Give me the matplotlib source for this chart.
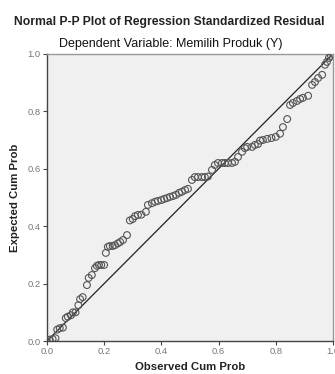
import matplotlib
matplotlib.use("Agg")
import matplotlib.pyplot as plt

observed = [0.000, 0.010, 0.020, 0.030, 0.036, 0.045, 0.056, 0.066, 0.073, 0.084,
            0.091, 0.100, 0.110, 0.116, 0.125, 0.140, 0.146, 0.157, 0.168, 0.175,
            0.182, 0.190, 0.200, 0.206, 0.213, 0.220, 0.230, 0.238, 0.248, 0.256,
            0.266, 0.280, 0.290, 0.300, 0.308, 0.318, 0.330, 0.346, 0.353, 0.367,
            0.378, 0.388, 0.400, 0.410, 0.420, 0.430, 0.441, 0.451, 0.462, 0.472,
            0.483, 0.493, 0.507, 0.517, 0.528, 0.542, 0.552, 0.563, 0.577, 0.587,
            0.598, 0.612, 0.622, 0.633, 0.647, 0.657, 0.668, 0.682, 0.692, 0.700,
            0.717, 0.727, 0.738, 0.745, 0.755, 0.770, 0.785, 0.800, 0.815, 0.825,
            0.840, 0.850, 0.860, 0.874, 0.885, 0.895, 0.913, 0.927, 0.937, 0.948,
            0.962, 0.972, 0.979, 0.986, 0.993, 1.000]
expected = [0.000, 0.005, 0.007, 0.010, 0.040, 0.045, 0.047, 0.080, 0.085, 0.090,
            0.100, 0.100, 0.125, 0.146, 0.153, 0.195, 0.220, 0.230, 0.254, 0.262,
            0.265, 0.265, 0.265, 0.307, 0.328, 0.331, 0.331, 0.334, 0.340, 0.345,
            0.352, 0.369, 0.420, 0.425, 0.435, 0.439, 0.440, 0.450, 0.474, 0.480,
            0.485, 0.488, 0.491, 0.495, 0.498, 0.502, 0.505, 0.509, 0.516, 0.520,
            0.526, 0.530, 0.561, 0.571, 0.571, 0.571, 0.571, 0.573, 0.596, 0.613,
            0.620, 0.620, 0.620, 0.620, 0.620, 0.624, 0.641, 0.659, 0.672, 0.676,
            0.676, 0.683, 0.686, 0.698, 0.700, 0.704, 0.707, 0.711, 0.722, 0.745,
            0.773, 0.822, 0.829, 0.836, 0.843, 0.847, 0.854, 0.892, 0.902, 0.916,
            0.927, 0.962, 0.972, 0.986, 0.993, 1.000]

ticks = [0.0, 0.2, 0.4, 0.6, 0.8, 1.0]
tick_labels = ["0.0", "0.2", "0.4", "0.6", "0.8", "1.0"]

plt.rcParams['font.family'] = ['Liberation Sans', 'DejaVu Sans']

fig = plt.figure(figsize=(3.35, 3.74), dpi=100)
ax = fig.add_axes([0.140, 0.088, 0.854, 0.768])
ax.set_facecolor('#f0f0f0')

ax.plot([0, 1], [0, 1], color='#222222', lw=0.9, zorder=2)
ax.scatter(observed, expected, s=24, facecolors='none', edgecolors='#555555',
           linewidths=0.8, zorder=3)

ax.set_xlim(0, 1)
ax.set_ylim(0, 1)
ax.set_xticks(ticks)
ax.set_xticklabels(tick_labels)
ax.set_yticks(ticks)
ax.set_yticklabels(tick_labels)
ax.tick_params(direction='out', length=3, width=0.8, color='#444444',
               labelsize=6.8, labelcolor='#777777', pad=1.5)
for side in ['left', 'bottom']:
    ax.spines[side].set_color('#444444')
    ax.spines[side].set_linewidth(1.0)
for side in ['top', 'right']:
    ax.spines[side].set_color('#999999')
    ax.spines[side].set_linewidth(1.0)

ax.set_xlabel('Observed Cum Prob', fontsize=8.2, fontweight='bold', color='#222222', labelpad=4)
ax.set_ylabel('Expected Cum Prob', fontsize=8.2, fontweight='bold', color='#222222', labelpad=5)

fig.text(0.505, 0.94, 'Normal P-P Plot of Regression Standardized Residual',
         ha='center', va='center', fontsize=8.7, fontweight='bold', color='#222222')
fig.text(0.51, 0.882, 'Dependent Variable: Memilih Produk (Y)',
         ha='center', va='center', fontsize=9.0, color='#111111')

fig.savefig('out.png', dpi=100)
